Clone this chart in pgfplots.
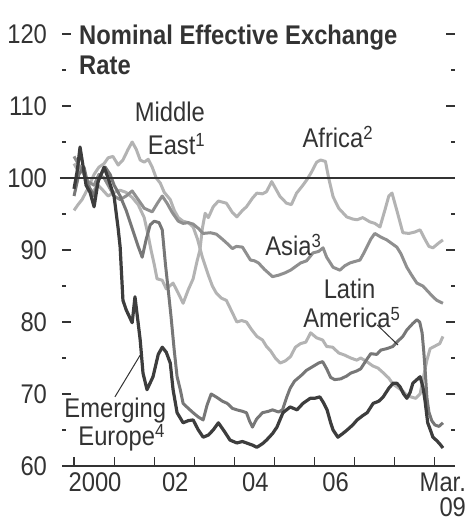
\documentclass[border=0pt]{standalone}
\usepackage{fontspec}
\setmainfont{Liberation Sans}[FakeStretch=0.88]
\usepackage{pgfplots}
\pgfplotsset{compat=1.18}
\definecolor{txt}{HTML}{333333}
\definecolor{EEcol}{HTML}{3D3D3D}
\definecolor{LAcol}{HTML}{777777}
\definecolor{AScol}{HTML}{8F8F8F}
\definecolor{MEcol}{HTML}{B3B3B3}
\definecolor{AFcol}{HTML}{B3B3B3}
\newcommand{\lbl}{\fontsize{13.5bp}{16bp}\selectfont}
\newcommand{\sups}[1]{\raisebox{3.8bp}{\fontsize{9.5bp}{10bp}\selectfont #1}}

\begin{document}
\begin{tikzpicture}
\begin{axis}[
    scale only axis,
    width=196.5bp, height=216bp,
    xmin=1999.7, xmax=2009.5,
    ymin=60, ymax=120,
    clip=false,
    axis line style={draw=none},
    xtick={2000,...,2009},
    xticklabels={2000,,02,,04,,06,,,},
    xticklabel style={xshift=10.5bp},
    xtick pos=bottom,
    ytick={60,70,...,120},
    minor ytick={65,75,...,115},
    ytick pos=both,
    yticklabel style={xshift=-4bp},
    tick align=inside,
    major tick length=4.5bp,
    minor tick length=2bp,
    every tick/.style={draw=txt, line width=0.6bp},
    tick label style={font=\lbl, text=txt},
    /pgf/number format/assume math mode=true,
    every axis plot/.append style={line width=1.5bp, line join=round},
]
% Middle East
\addplot[MEcol] coordinates {
(2000.00,95.5) (2000.1,96.3) (2000.2,97) (2000.35,98.6) (2000.5,100.5) (2000.62,101.5)
(2000.75,102) (2000.85,102.8) (2000.97,103) (2001.1,101.8) (2001.22,102.5) (2001.35,104)
(2001.45,105) (2001.55,104) (2001.65,102.5) (2001.75,102.2) (2001.85,102.6) (2001.95,101.5)
(2002.05,100) (2002.15,99.3) (2002.25,98) (2002.4,97) (2002.5,95.5) (2002.6,94.5)
(2002.72,94) (2002.85,93.8) (2002.97,93.2) (2003.08,91.5) (2003.2,89) (2003.35,86.5)
(2003.45,85) (2003.55,84) (2003.68,83.3) (2003.8,83) (2003.93,81.5) (2004.06,80)
(2004.18,80.2) (2004.3,80) (2004.42,79) (2004.56,78) (2004.7,77.5) (2004.8,76.6)
(2004.9,76) (2005.02,75) (2005.14,74.3) (2005.27,74.6) (2005.4,75.2) (2005.52,76.5)
(2005.65,77) (2005.78,77.2) (2005.9,78.5) (2006.05,77.8) (2006.2,77.5) (2006.3,76.6)
(2006.45,76.5) (2006.6,75.7) (2006.75,75.4) (2006.9,75) (2007.05,74.7) (2007.15,75)
(2007.3,74.5) (2007.45,73.9) (2007.58,73.6) (2007.7,73) (2007.85,72.2) (2007.95,71.4)
(2008.05,71) (2008.2,70.4) (2008.3,69.8) (2008.4,69.6) (2008.52,69.4) (2008.63,70)
(2008.72,72.5) (2008.8,74.7) (2008.88,76.3) (2008.95,76.5) (2009.05,76.8) (2009.12,77)
(2009.2,78)
};
% Africa
\addplot[AFcol] coordinates {
(2000.00,102) (2000.1,101) (2000.2,101.3) (2000.35,99) (2000.45,98) (2000.6,99)
(2000.72,98.3) (2000.85,97.5) (2001.0,98) (2001.15,98.3) (2001.3,98) (2001.45,97.3)
(2001.6,96.3) (2001.75,94.5) (2001.85,92) (2001.92,90) (2002.0,88) (2002.07,86)
(2002.2,85.8) (2002.3,84.6) (2002.47,85.4) (2002.6,84) (2002.72,82.6) (2002.85,84.5)
(2002.97,86) (2003.07,88.5) (2003.14,90) (2003.2,93) (2003.27,95.1) (2003.35,94.5)
(2003.47,96) (2003.6,96.8) (2003.8,96.5) (2003.95,95.2) (2004.06,94.6) (2004.2,95.5)
(2004.3,96) (2004.45,97.2) (2004.56,97.9) (2004.7,97.8) (2004.8,98.1) (2004.93,99.5)
(2005.05,98.3) (2005.14,97.4) (2005.3,96.5) (2005.42,96.3) (2005.55,97.9) (2005.68,98.8)
(2005.8,99.7) (2005.92,100.8) (2006.05,102.2) (2006.15,102.5) (2006.27,102.3) (2006.35,100)
(2006.46,97.4) (2006.6,95.8) (2006.8,94.6) (2006.95,94.3) (2007.06,94.2) (2007.2,94.5)
(2007.38,93.9) (2007.5,93.7) (2007.63,93.2) (2007.75,95.5) (2007.85,97.5) (2007.93,97.9)
(2008.05,95.5) (2008.2,92.4) (2008.35,92.3) (2008.5,92.5) (2008.63,92.8) (2008.75,91.5)
(2008.85,90.5) (2008.95,90.3) (2009.1,91) (2009.2,91.4)
};
% Asia
\addplot[AScol] coordinates {
(2000.00,103) (2000.1,102) (2000.2,101) (2000.35,99.5) (2000.5,99) (2000.62,100.5)
(2000.75,100) (2000.9,98.5) (2001.0,97.5) (2001.15,97) (2001.3,97.5) (2001.45,98.2)
(2001.6,97) (2001.75,95.8) (2001.95,95.3) (2002.08,96.5) (2002.2,97.5) (2002.32,96.5)
(2002.45,95.2) (2002.6,94) (2002.72,93.7) (2002.85,93.8) (2002.97,93.6) (2003.1,93)
(2003.22,92.3) (2003.4,92.4) (2003.55,92.2) (2003.7,91.5) (2003.8,91) (2003.95,90.2)
(2004.05,90.5) (2004.2,90.4) (2004.3,89.5) (2004.4,88.6) (2004.5,88.5) (2004.6,88.2)
(2004.75,87.3) (2004.95,86.3) (2005.1,86.5) (2005.25,86.8) (2005.4,87.2) (2005.55,87.8)
(2005.65,88.2) (2005.8,88.5) (2005.96,89.6) (2006.1,89.8) (2006.21,90.3) (2006.3,89)
(2006.46,87.6) (2006.63,87.2) (2006.75,87.8) (2006.88,88.2) (2007.0,88.4) (2007.13,88.6)
(2007.22,89.5) (2007.3,90.4) (2007.4,91.5) (2007.5,92.3) (2007.65,91.8) (2007.8,91.4)
(2007.95,90.8) (2008.05,90.4) (2008.15,89.5) (2008.3,87.6) (2008.42,86.5) (2008.55,85.4)
(2008.7,85) (2008.8,84.4) (2008.95,83.5) (2009.05,83) (2009.2,82.6)
};
% Latin America
\addplot[LAcol] coordinates {
(2000.00,97.5) (2000.12,100.5) (2000.25,101.5) (2000.35,99) (2000.5,97.5) (2000.62,100)
(2000.78,101.5) (2000.9,100.5) (2001.0,99) (2001.15,97.5) (2001.3,95.5) (2001.45,93)
(2001.6,90.5) (2001.7,89) (2001.8,91.5) (2001.9,93.5) (2002.0,94) (2002.12,93.8)
(2002.2,92.8) (2002.28,88) (2002.35,84.4) (2002.42,80.7) (2002.5,76) (2002.57,72.4)
(2002.65,70.6) (2002.72,68.7) (2002.85,68) (2002.97,67.4) (2003.1,66.8) (2003.22,66.4)
(2003.32,68.5) (2003.42,70) (2003.57,69.5) (2003.7,69) (2003.82,68.7) (2003.95,68)
(2004.06,67.8) (2004.2,67.6) (2004.3,67.4) (2004.38,66.2) (2004.45,65.4) (2004.55,66.5)
(2004.7,67.4) (2004.85,67.6) (2004.95,67.8) (2005.1,67.5) (2005.2,67.8) (2005.3,69.5)
(2005.39,70.8) (2005.5,71.8) (2005.65,72.5) (2005.8,73.3) (2005.95,73.8) (2006.1,74.3)
(2006.2,74.5) (2006.3,73.5) (2006.4,72.3) (2006.5,72) (2006.65,72.1) (2006.8,72.5)
(2006.9,72.9) (2007.05,73.2) (2007.15,73.5) (2007.3,74.8) (2007.4,75.6) (2007.55,75.5)
(2007.65,76.1) (2007.8,76.3) (2007.95,76.6) (2008.05,77.2) (2008.2,78) (2008.3,78.9)
(2008.45,79.8) (2008.55,80.3) (2008.62,80) (2008.68,78.5) (2008.72,76) (2008.76,73)
(2008.8,69.5) (2008.85,67.5) (2008.92,66.3) (2009.0,65.7) (2009.1,65.5) (2009.2,66)
};
% Emerging Europe
\addplot[EEcol, line width=1.6bp] coordinates {
(2000.00,98.5) (2000.08,101) (2000.15,104.3) (2000.3,99) (2000.4,98) (2000.5,96)
(2000.6,99.5) (2000.75,101.5) (2000.85,100) (2001.0,97.4) (2001.1,93) (2001.15,90.4)
(2001.22,83) (2001.3,81.7) (2001.45,79.9) (2001.52,83.5) (2001.65,77.5) (2001.72,72.9)
(2001.82,70.6) (2001.97,72.4) (2002.1,75.5) (2002.2,76.5) (2002.3,75.8) (2002.4,74.3)
(2002.47,70.6) (2002.57,67.4) (2002.72,66) (2002.85,66.3) (2002.97,66.4) (2003.1,65)
(2003.22,64) (2003.35,64.3) (2003.47,65) (2003.6,66) (2003.75,64.8) (2003.89,63.6)
(2004.06,63.2) (2004.2,63.4) (2004.3,63.2) (2004.45,62.9) (2004.56,62.6) (2004.7,63.1)
(2004.8,63.6) (2004.95,64.5) (2005.06,65.4) (2005.21,67.4) (2005.39,68.2) (2005.56,67.8)
(2005.71,68.7) (2005.89,69.4) (2006.0,69.4) (2006.13,69.6) (2006.22,68.8) (2006.31,67.8)
(2006.4,66) (2006.46,65) (2006.58,64) (2006.7,64.5) (2006.81,65) (2006.95,65.7)
(2007.06,66.4) (2007.2,67) (2007.31,67.4) (2007.46,68.7) (2007.6,69) (2007.71,69.6)
(2007.85,70.8) (2007.96,71.5) (2008.05,71.5) (2008.13,71) (2008.22,70) (2008.3,69.4)
(2008.38,70.2) (2008.45,71.5) (2008.55,72) (2008.63,72.4) (2008.7,71) (2008.75,69.2)
(2008.82,66) (2008.9,64.8) (2008.95,64) (2009.05,63.5) (2009.13,63) (2009.2,62.5)
};
% axis line and reference line
\draw[txt, line width=0.6bp] (rel axis cs:0,0) -- (rel axis cs:1,0);
\draw[txt, line width=0.6bp] (axis cs:1999.65,100) -- (axis cs:2009.38,100);
% title
\node[anchor=north west, align=left, inner sep=0pt, text=txt,
      font=\fontsize{13.5bp}{15bp}\selectfont\bfseries]
    at (axis cs:2000.12,121.3) {Nominal Effective Exchange\\Rate};
% series labels
\node[anchor=base east, inner sep=0pt, text=txt, font=\lbl] at (axis cs:2003.27,107.8) {Middle};
\node[anchor=base east, inner sep=0pt, text=txt, font=\lbl] at (axis cs:2003.27,103.3) {East\sups{1}};
\node[anchor=base west, inner sep=0pt, text=txt, font=\lbl] at (axis cs:2005.69,104.3) {Africa\sups{2}};
\node[anchor=base west, inner sep=0pt, text=txt, font=\lbl] at (axis cs:2004.76,89.3) {Asia\sups{3}};
\node[anchor=base, inner sep=0pt, text=txt, font=\lbl] at (axis cs:2006.87,83.3) {Latin};
\node[anchor=base west, inner sep=0pt, text=txt, font=\lbl] at (axis cs:2005.71,79.2) {America\sups{5}};
\node[anchor=base, inner sep=0pt, text=txt, font=\lbl] at (axis cs:2001.03,66.8) {Emerging};
\node[anchor=base west, inner sep=0pt, text=txt, font=\lbl] at (axis cs:2000.1,62.9) {Europe\sups{4}};
\draw[txt, line width=0.5bp] (axis cs:2007.56,79.6) -- (axis cs:2008.08,76.8);
\draw[txt, line width=0.5bp] (axis cs:2001.02,69.6) -- (axis cs:2001.65,75.4);
% last x label
\node[anchor=north east, align=right, text=txt, font=\fontsize{13.5bp}{12.5bp}\selectfont]
    at (rel axis cs:1,0) [xshift=9bp] {Mar.\\09};
\end{axis}
\path (current axis.south west) ++(-31bp,-30.5bp) coordinate (bl);
\path (current axis.north east) ++(9bp,17bp) coordinate (tr);
\path (bl) rectangle (tr);
\end{tikzpicture}
\end{document}
